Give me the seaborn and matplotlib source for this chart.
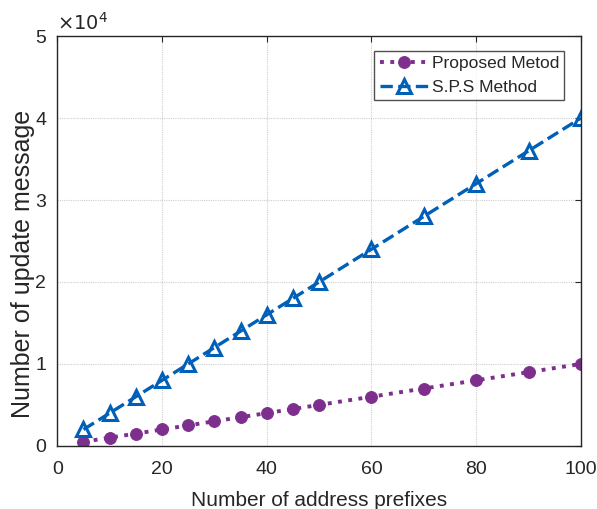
import numpy as np
import pandas as pd
import matplotlib
matplotlib.use("Agg")
import matplotlib.pyplot as plt
import seaborn as sns

prefixes = [5, 10, 15, 20, 25, 30, 35, 40, 45, 50, 60, 70, 80, 90, 100]
proposed = [500, 1000, 1500, 2000, 2500, 3000, 3500, 4000, 4500, 5000, 6000, 7000, 8000, 9000, 10000]
sps = [2000, 4000, 6000, 8000, 10000, 12000, 14000, 16000, 18000, 20000, 24000, 28000, 32000, 36000, 40000]

sns.set_style("white")
plt.rcParams['font.family'] = ['Liberation Sans', 'DejaVu Sans']

dati = pd.DataFrame({'x': prefixes, 'proposed': np.array(proposed) / 1e4, 'sps': np.array(sps) / 1e4})

fig, ax = plt.subplots(figsize=(5.97, 5.09), dpi=100)
fig.subplots_adjust(left=0.096, right=0.973, top=0.929, bottom=0.124)

sns.lineplot(data=dati, x='x', y='proposed', ax=ax, color='#7E2F8E', linestyle=':', linewidth=2.8,
             marker='o', markersize=8.5, markeredgecolor='#7E2F8E', label='Proposed Metod')
sns.lineplot(data=dati, x='x', y='sps', ax=ax, color='#0060B8', linestyle='--', linewidth=2.4,
             marker='^', markersize=10, markerfacecolor='none', markeredgewidth=2.2,
             markeredgecolor='#0060B8', label='S.P.S Method')

ax.set_xlim(0, 100)
ax.set_ylim(0, 5)
ax.set_xticks([0, 20, 40, 60, 80, 100])
ax.set_yticks([0, 1, 2, 3, 4, 5])
ax.grid(True, color='#cfcfcf', linewidth=0.8, linestyle=(0, (1, 1)))
for s in ax.spines.values():
    s.set_color('#262626')
    s.set_linewidth(1)
ax.tick_params(direction='in', length=4, labelsize=14, colors='#262626', top=True, right=True)
ax.tick_params(axis='x', pad=11)
ax.tick_params(axis='y', pad=8)
ax.set_xlabel('Number of address prefixes', fontsize=15, color='#262626', labelpad=9)
ax.set_ylabel('Number of update message', fontsize=18, color='#262626')
ax.yaxis.set_label_coords(-0.042, 0.444)
ax.text(0.0, 1.005, r'$\times10^{4}$', transform=ax.transAxes, fontsize=14, color='#262626', va='bottom')

leg = ax.legend(loc='upper right', fontsize=12.5, frameon=True, fancybox=False, borderpad=0.3,
                handlelength=2.8, handletextpad=0.2, bbox_to_anchor=(0.985, 0.985))
leg.get_frame().set_edgecolor('#262626')
leg.get_frame().set_linewidth(1)

plt.savefig('out.png', dpi=100)
